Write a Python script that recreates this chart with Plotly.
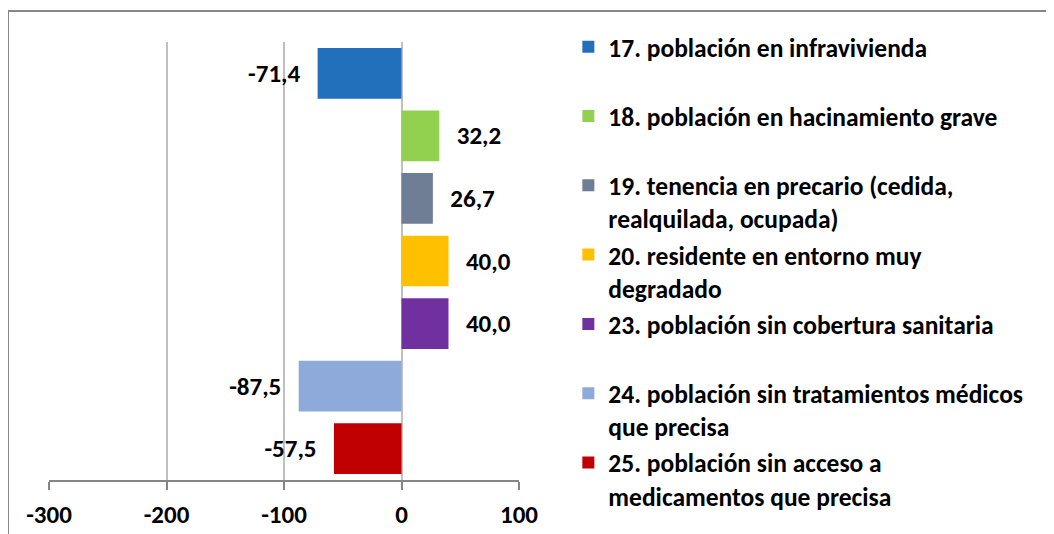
import plotly.graph_objects as go

categories = [
    "17. población en infravivienda",
    "18. población en hacinamiento grave",
    "19. tenencia en precario (cedida,<br>realquilada, ocupada)",
    "20. residente en entorno muy<br>degradado",
    "23. población sin cobertura sanitaria",
    "24. población sin tratamientos médicos<br>que precisa",
    "25. población sin acceso a<br>medicamentos que precisa",
]
values = [-71.4, 32.2, 26.7, 40.0, 40.0, -87.5, -57.5]
colors = ["#2270BB", "#92D050", "#6F7D95", "#FFC000", "#7030A0", "#8EAADB", "#C00000"]
tick_vals = [-300, -200, -100, 0, 100]
tick_text = ["-300", "-200", "-100", "0", "100"]

FAMILY = "Carlito, Lato"
FONT = dict(family=FAMILY, size=25, color="#000000", weight="bold")
LEGFONT = dict(family=FAMILY, size=25.5, color="#000000", weight="bold")
PAD = "\u00a0\u00a0\u200a"

fig = go.Figure()
for i, (cat, v, c) in enumerate(zip(categories, values, colors)):
    label = f"{v:.1f}".replace(".", ",")
    label = label + PAD if v < 0 else PAD + label
    name = cat if "<br>" in cat else cat + "<br>\u00a0"
    fig.add_trace(go.Bar(
        x=[v], y=[i], orientation="h", name=name,
        marker=dict(color=c, line=dict(width=0)),
        width=0.81,
        text=[label], textposition="outside", textfont=FONT,
        constraintext="none", cliponaxis=False,
    ))

fig.update_layout(
    width=1054, height=534,
    margin=dict(l=41, r=543, t=34, b=62),
    paper_bgcolor="white", plot_bgcolor="white",
    barmode="overlay",
    font=FONT,
    showlegend=True,
    legend=dict(
        x=1.105, xanchor="left", y=1.042, yanchor="top",
        font=LEGFONT, valign="top",
        traceorder="normal", bgcolor="rgba(0,0,0,0)",
        maxheight=1000,
    ),
    xaxis=dict(
        range=[-300, 100], tickvals=tick_vals, ticktext=tick_text,
        showgrid=True, gridcolor="#C0C0C0", gridwidth=2,
        zeroline=False,
        showline=True, linecolor="#868686", linewidth=2,
        ticks="outside", ticklen=8, tickcolor="#868686", tickwidth=2,
        tickfont=FONT, fixedrange=True, ticklabelstandoff=3,
    ),
    yaxis=dict(
        range=[6.5, -0.5], showticklabels=False, showgrid=False,
        zeroline=False, showline=False, ticks="", fixedrange=True,
    ),
    shapes=[dict(
        type="rect", xref="paper", yref="paper",
        x0=-0.0872, x1=2.5, y0=-0.3, y1=1.0708,
        line=dict(color="#878787", width=2), fillcolor="rgba(0,0,0,0)",
        layer="above",
    )],
)

fig.write_html("out.html")
